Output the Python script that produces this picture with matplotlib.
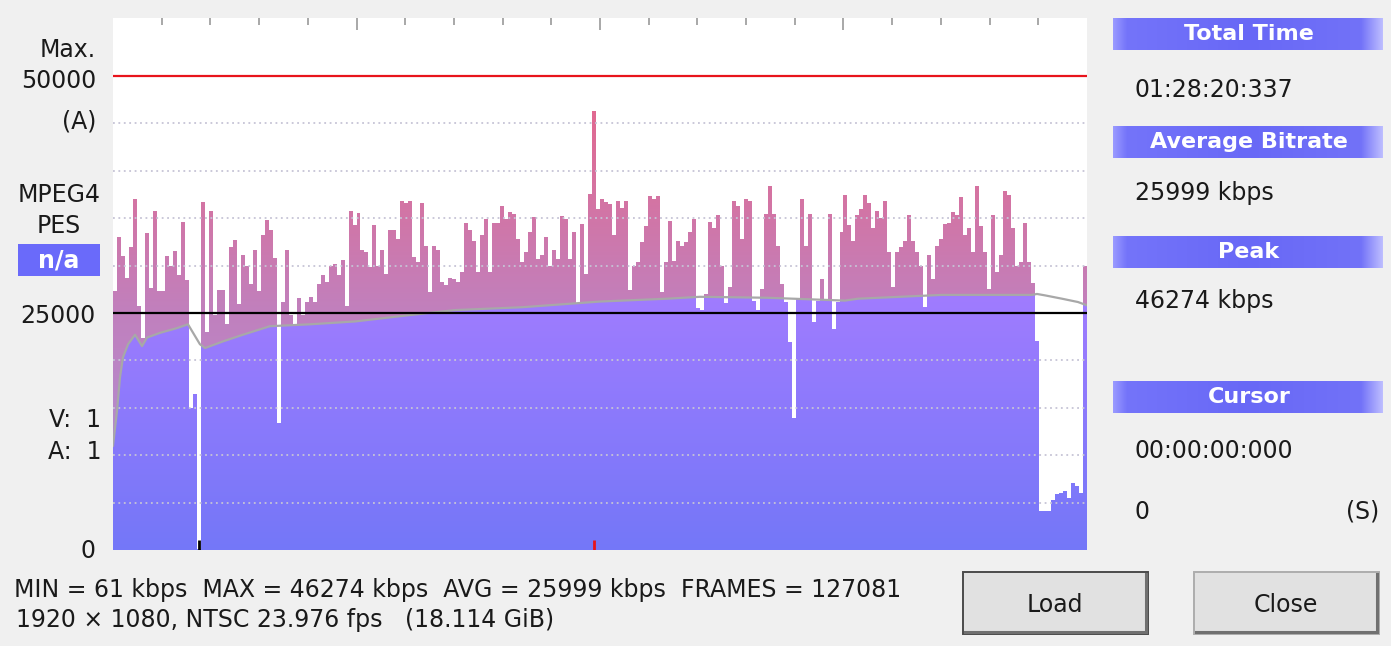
#!/usr/bin/env python3
"""Bitrate viewer panel: per-interval video bitrate bars with running average."""

import numpy as np
import matplotlib.pyplot as plt
from matplotlib.colors import LinearSegmentedColormap
from matplotlib.patches import Rectangle

W, H = 1391, 646
DPI = 100
BG = "#F0F0F0"
TEXT = "#1A1A1A"
FONT = 17
HEAD_FONT = 16

TOTAL_S = 5300.337
Y_MAX = 56100

# bitrate per display interval (kbps), read left to right
BITRATE_KBPS = [
    27300, 33000, 31000, 28700, 32000, 37000, 25700, 22400, 33400, 27600,
    35800, 27300, 27300, 31000, 30000, 31500, 29000, 34600, 28500, 15000,
    16400, 61, 36700, 23000, 35800, 24800, 27400, 27400, 23800, 32000,
    32700, 25900, 31100, 30000, 28000, 31600, 27300, 33200, 34800, 33700,
    30800, 13400, 26200, 31600, 24800, 23600, 26600, 24800, 26200, 26700,
    26200, 28000, 29000, 28300, 30000, 30200, 29000, 30600, 25700, 35700,
    34300, 35500, 31600, 31400, 29800, 34300, 30000, 31600, 29100, 33700,
    33700, 32800, 36800, 36600, 36800, 30900, 30400, 36600, 32100, 27200,
    32100, 31600, 28300, 27900, 28700, 28600, 28300, 29300, 34500, 33700,
    32600, 29300, 33200, 34900, 29300, 34500, 34500, 36300, 34900, 35600,
    35400, 32800, 30400, 31400, 33500, 35100, 30700, 31100, 33000, 30000,
    31600, 30700, 35200, 34900, 30700, 33500, 26000, 34400, 29100, 37500,
    46274, 36000, 37000, 36700, 36500, 33200, 36800, 36100, 36800, 27400,
    30000, 30400, 32500, 34200, 37300, 37000, 37300, 27200, 30400, 34700,
    30500, 32600, 32100, 32500, 33500, 34900, 25500, 25300, 27000, 34600,
    34000, 35300, 30000, 26000, 27700, 36800, 36300, 32800, 37000, 36800,
    26300, 25300, 27500, 35400, 38400, 35400, 32100, 28000, 26200, 21900,
    13900, 26500, 37000, 32100, 35400, 24000, 26300, 28600, 26500, 35400,
    23300, 26200, 33500, 37400, 34300, 32600, 35300, 36000, 37400, 36600,
    34000, 35800, 35000, 36800, 31400, 27700, 31400, 32000, 32600, 35300,
    32600, 31400, 30000, 25600, 31100, 28600, 32100, 32800, 34400, 34500,
    35600, 35300, 37200, 33200, 34000, 31400, 38400, 34200, 31400, 27500,
    35300, 29300, 31100, 37900, 37400, 34000, 30000, 30400, 34500, 30400,
    28200, 22000, 4100, 4100, 4100, 5300, 5900, 6000, 6200, 5500,
    7100, 6700, 6000, 30000,
]

# running average (grey line), read at these times
AVG_T_S = [
    0, 22, 38, 54, 82, 120, 158, 185, 256, 348, 408, 473, 501, 599, 707,
    854, 1072, 1317, 1605, 1861, 2226, 2650, 3015, 3194, 3559, 3983, 4054,
    4511, 5001, 5028, 5072, 5164, 5251, 5300.337,
]
AVG_KBPS = [
    11000, 14700, 18200, 20300, 21700, 22700, 21500, 22400, 22900, 23400,
    23800, 21700, 21300, 22000, 22700, 23600, 23800, 24100, 24750, 25300,
    25600, 26200, 26500, 26700, 26600, 26300, 26500, 26900, 26900, 27000,
    26850, 26500, 26150, 25800,
]

GRID_KBPS = [5000, 10000, 15000, 20000, 30000, 35000, 40000, 45000]
REF_KBPS = 25000
MAX_KBPS = 50000

MAG_CMAP = LinearSegmentedColormap.from_list(
    "mag", [(0.0, "#A893DD"), (0.45, "#C180BD"), (0.66, "#D474A3"), (1.0, "#EE5E7E")]
)
BLUE_CMAP = LinearSegmentedColormap.from_list(
    "blue", [(0.0, "#7477F8"), (1.0, "#A27CFF")]
)
HEADER_CMAP = LinearSegmentedColormap.from_list(
    "hdr", [(0.0, "#9A9AFF"), (0.05, "#7474FA"), (0.5, "#6868F6"),
            (0.92, "#7272F8"), (1.0, "#BDBDFF")]
)

plt.rcParams.update({"font.family": "DejaVu Sans"})


def fig_box(x, y, w, h):
    return [x / W, 1 - (y + h) / H, w / W, h / H]


def main():
    fig = plt.figure(figsize=(W / DPI, H / DPI), dpi=DPI)
    fig.patch.set_facecolor(BG)

    # pixel overlay for the dialog furniture
    ov = fig.add_axes([0, 0, 1, 1])
    ov.set_zorder(0)
    ov.axis("off")

    ax = fig.add_axes(fig_box(113, 18, 974, 532))
    ax.set_zorder(1)
    ax.set_facecolor("white")

    n = len(BITRATE_KBPS)
    edges = np.linspace(0, TOTAL_S, n + 1)
    vals = np.append(BITRATE_KBPS, BITRATE_KBPS[-1])

    bars = ax.fill_between(edges, vals, 0, step="post", facecolor="none", linewidth=0)
    bar_path = bars.get_paths()[0]
    under = ax.fill_between(AVG_T_S, AVG_KBPS, 0, facecolor="none", linewidth=0)
    under_path = under.get_paths()[0]

    grad = np.linspace(0, 1, 512).reshape(-1, 1)
    mag = ax.imshow(grad, cmap=MAG_CMAP, origin="lower", aspect="auto",
                    extent=[0, TOTAL_S, 0, Y_MAX], interpolation="bilinear", zorder=1)
    mag.set_clip_path(bar_path, ax.transData)
    blue = ax.imshow(grad, cmap=BLUE_CMAP, origin="lower", aspect="auto",
                     extent=[0, TOTAL_S, 0, 28000], interpolation="bilinear", zorder=2)
    blue.set_clip_path(under_path, ax.transData)
    gaps = ax.fill_between(edges, vals, Y_MAX, step="post", color="white",
                           linewidth=0, zorder=3)
    gaps.set_clip_path(under_path, ax.transData)

    for g in GRID_KBPS:
        ax.axhline(g, color="#C6C4D6", linewidth=1.3, linestyle=(0, (1, 2)), zorder=4)
    ax.plot(AVG_T_S, AVG_KBPS, color="#A8A8A8", linewidth=1.6, zorder=5)
    ax.axhline(REF_KBPS, color="black", linewidth=1.6, zorder=6)
    ax.axhline(MAX_KBPS, color="#E8141C", linewidth=1.6, zorder=6)

    step = TOTAL_S / n
    i_min = int(np.argmin(BITRATE_KBPS))
    i_max = int(np.argmax(BITRATE_KBPS))
    ax.vlines((i_min + 0.5) * step, 0, 1100, color="black", linewidth=2, zorder=7)
    ax.vlines((i_max + 0.5) * step, 0, 1100, color="#E8141C", linewidth=2, zorder=7)

    ax.set_xlim(0, TOTAL_S)
    ax.set_ylim(0, Y_MAX)
    ax.xaxis.tick_top()
    ax.set_xticks(np.arange(1, 4) * TOTAL_S / 4)
    ax.set_xticks(np.arange(1, 20) * TOTAL_S / 20, minor=True)
    ax.tick_params(axis="x", which="both", direction="in", colors="#9A9A9A",
                   width=1.2, labeltop=False, labelbottom=False)
    ax.tick_params(axis="x", which="major", length=8.5)
    ax.tick_params(axis="x", which="minor", length=5)
    ax.set_yticks([])
    for spine in ax.spines.values():
        spine.set_visible(False)

    # left labels
    for s, y in [("Max.", 57), ("50000", 88), ("(A)", 129), ("25000", 323), ("0", 558)]:
        ov.text(96, y, s, ha="right", va="baseline", fontsize=FONT, color=TEXT)
    for s, y in [("MPEG4", 202), ("PES", 233)]:
        ov.text(59, y, s, ha="center", va="baseline", fontsize=FONT, color=TEXT)
    for s, y in [("V:  1", 427), ("A:  1", 459)]:
        ov.text(101, y, s, ha="right", va="baseline", fontsize=FONT, color=TEXT)
    ov.add_patch(Rectangle((18, 244), 82, 32, facecolor="#6A6AFA", edgecolor="none"))
    ov.text(59, 260, "n/a", ha="center", va="center", fontsize=FONT,
            fontweight="bold", color="white")

    # right panel
    hgrad = np.linspace(0, 1, 256).reshape(1, -1)
    headers = [("Total Time", 18), ("Average Bitrate", 126), ("Peak", 236), ("Cursor", 381)]
    for s, y in headers:
        ov.imshow(hgrad, cmap=HEADER_CMAP, aspect="auto",
                  extent=[1113, 1383, y + 32, y], interpolation="bilinear")
        ov.text(1249, y + 16, s, ha="center", va="center", fontsize=HEAD_FONT,
                fontweight="bold", color="white")
    values = [("01:28:20:337", 97), ("25999 kbps", 200), ("46274 kbps", 308),
              ("00:00:00:000", 458), ("0", 519)]
    for s, y in values:
        ov.text(1135, y, s, ha="left", va="baseline", fontsize=FONT, color=TEXT)
    ov.text(1379, 519, "(S)", ha="right", va="baseline", fontsize=FONT, color=TEXT)

    # bottom summary
    ov.text(14, 597, "MIN = 61 kbps  MAX = 46274 kbps  AVG = 25999 kbps  FRAMES = 127081",
            ha="left", va="baseline", fontsize=FONT, color=TEXT)
    ov.text(16, 627, "1920 \u00d7 1080, NTSC 23.976 fps   (18.114 GiB)",
            ha="left", va="baseline", fontsize=FONT, color=TEXT)

    # buttons
    for label, x0, edge in [("Load", 963, "#4A4A4A"), ("Close", 1194, "#ADADAD")]:
        ov.add_patch(Rectangle((x0, 572), 185, 62, facecolor="#E1E1E1",
                               edgecolor=edge, linewidth=1.4))
        ov.plot([x0 + 2, x0 + 183, x0 + 183], [632, 632, 574], color="#707070",
                linewidth=2.2, solid_joinstyle="miter")
        ov.text(x0 + 92, 612, label, ha="center", va="baseline", fontsize=FONT, color=TEXT)

    ov.set_xlim(0, W)
    ov.set_ylim(H, 0)

    fig.savefig("out.png", dpi=DPI, facecolor=BG)
    plt.close(fig)


if __name__ == "__main__":
    main()
